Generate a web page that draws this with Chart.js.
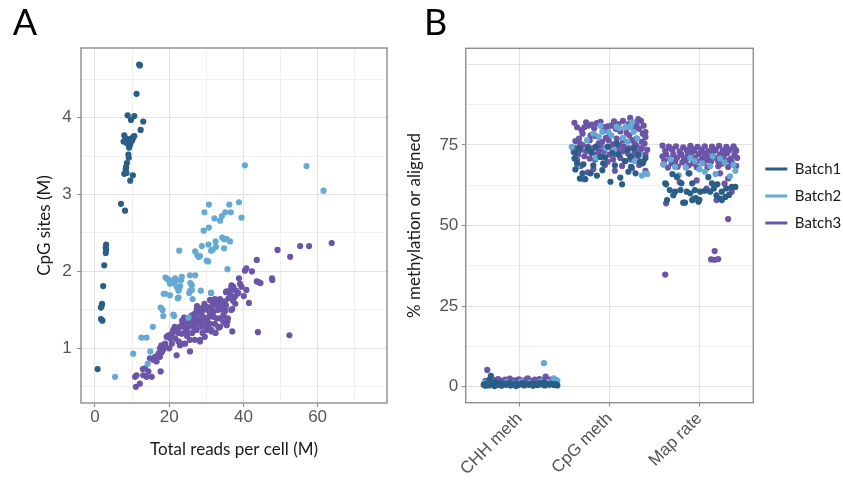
<!DOCTYPE html>
<html>
<head>
<meta charset="utf-8">
<script src="https://cdn.jsdelivr.net/npm/chart.js@4.4.1/dist/chart.umd.min.js"></script>
<style>
  body { margin: 0; background: #fff; }
  #wrapA { position: absolute; left: 0; top: 0; }
  #wrapB { position: absolute; left: 380px; top: 0; }
</style>
</head>
<body>
<div id="wrapA"><canvas id="cpgChart" width="420" height="480"></canvas></div>
<div id="wrapB"><canvas id="methChart" width="463" height="480"></canvas></div>
<script>
// ---- data -----------------------------------------------------------------
var batches = ["Batch1", "Batch2", "Batch3"];
var categories = ["CHH meth", "CpG meth", "Map rate"];

// panel A: [total reads per cell (M), CpG sites (M)]
var cpgBatch1 = [
  [11.9,4.69],[12.1,4.68],[11.2,4.31],[8.8,4.03],[10.6,4.02],[9.7,3.97],[13.0,3.95],[12.3,3.84],
  [7.9,3.77],[10.6,3.76],[8.2,3.73],[10.2,3.73],[7.7,3.69],[8.8,3.68],[9.5,3.65],[9.2,3.61],
  [8.5,3.67],[9.3,3.72],[10.0,3.70],[10.3,3.75],[9.0,3.52],[9.1,3.48],[8.6,3.41],[8.4,3.36],
  [8.3,3.33],[7.9,3.27],[8.5,3.28],[10.2,3.25],[9.5,3.18],[7.0,2.88],[8.1,2.79],[3.0,2.35],
  [2.9,2.31],[3.0,2.28],[2.9,2.24],[2.5,2.08],[2.2,1.81],[1.9,1.58],[1.8,1.55],[1.6,1.53],
  [1.6,1.38],[2.0,1.36],[0.7,0.73]
];
var cpgBatch2 = [
  [40.4,3.38],[57.0,3.37],[61.6,3.05],[30.7,2.87],[36.2,2.87],[38.8,2.90],[29.5,2.77],[35.1,2.77],
  [34.2,2.72],[33.7,2.66],[36.6,2.77],[32.2,2.69],[39.5,2.70],[30.7,2.57],[29.3,2.53],[34.3,2.44],
  [34.8,2.42],[35.5,2.42],[36.4,2.39],[34.8,2.30],[32.5,2.39],[28.8,2.33],[30.6,2.35],[32.6,2.32],
  [31.7,2.28],[31.3,2.27],[22.7,2.27],[27.0,2.26],[27.6,2.21],[27.9,2.19],[28.3,2.20],[30.1,2.14],
  [30.5,2.13],[35.7,2.03],[19.0,1.92],[19.8,1.89],[20.8,1.88],[21.1,1.85],[21.8,1.88],[23.4,1.93],
  [23.2,1.89],[22.0,1.80],[22.9,1.81],[20.2,1.84],[25.6,1.95],[27.0,1.95],[25.7,1.85],[26.1,1.82],
  [22.7,1.78],[22.5,1.75],[28.5,1.75],[18.5,1.71],[20.2,1.69],[25.7,1.75],[25.4,1.72],[31.3,1.72],
  [22.5,1.66],[22.3,1.65],[26.3,1.64],[17.7,1.53],[18.2,1.50],[21.1,1.44],[21.3,1.42],[18.4,1.42],
  [25.2,1.40],[15.6,1.28],[12.5,1.14],[13.9,1.14],[10.3,0.93],[14.9,0.96],[14.2,0.80],[5.4,0.63],
  [19.3,1.91],[21.6,1.91],[18.9,1.71],[26.1,1.76]
];
var cpgBatch3 = [
  [63.8,2.37],[57.7,2.33],[55.3,2.33],[49.2,2.28],[52.6,2.19],[43.6,2.15],[40.8,2.04],[40.4,2.01],
  [42.3,2.00],[38.8,1.91],[47.7,1.91],[47.8,1.89],[43.6,1.87],[44.1,1.86],[44.6,1.85],[36.8,1.82],
  [37.3,1.80],[36.7,1.78],[40.8,1.76],[35.3,1.73],[38.0,1.75],[38.4,1.71],[37.7,1.67],[40.1,1.68],
  [41.5,1.59],[35.0,1.61],[35.3,1.56],[37.2,1.62],[37.0,1.51],[33.7,1.64],[32.3,1.64],[31.7,1.59],
  [31.3,1.72],[29.5,1.58],[35.8,1.39],[35.7,1.35],[35.1,1.33],[34.8,1.48],[36.7,1.50],[43.9,1.21],
  [52.4,1.17],[37.0,1.22],[33.2,1.28],[31.4,1.22],[30.1,1.24],[30.5,1.33],[39.1,1.84],[38.6,1.72],
  [37.5,1.67],[36.4,1.72],[35.5,1.74],[33.4,1.27],
  [31.0,1.63],[31.9,1.58],[32.8,1.56],[31.4,1.54],[30.1,1.54],[30.5,1.50],[29.2,1.50],[28.3,1.52],
  [27.4,1.50],[26.9,1.45],[26.1,1.43],[25.6,1.39],[26.5,1.37],[25.2,1.35],[24.3,1.32],[23.4,1.30],
  [22.9,1.28],[24.3,1.26],[24.7,1.22],[23.4,1.19],[22.0,1.22],[21.1,1.24],[20.7,1.19],[19.8,1.17],
  [19.3,1.15],[20.2,1.13],[21.6,1.13],[22.5,1.09],[23.4,1.06],[24.3,1.06],[25.6,1.11],[26.9,1.11],
  [28.3,1.09],[29.6,1.15],[30.5,1.26],[30.1,1.32],[28.7,1.35],[27.8,1.37],[27.4,1.32],[26.5,1.28],
  [27.4,1.24],[28.7,1.28],[30.1,1.28],[31.4,1.24],[32.3,1.32],[32.8,1.39],[33.7,1.39],[34.6,1.43],
  [35.0,1.48],[35.0,1.52],[34.1,1.54],[33.2,1.50],[34.6,1.35],[35.5,1.30],[33.7,1.28],[31.0,1.32],
  [31.9,1.41],[31.0,1.45],[27.0,1.40],[28.0,1.45],[29.0,1.42],[29.8,1.38],[26.0,1.30],[25.0,1.27],
  [28.5,1.48],[29.5,1.55],[32.0,1.48],[33.0,1.60],[30.5,1.40],[27.5,1.55],[24.0,1.40],[23.5,1.36],
  [22.5,1.20],[21.5,1.28],[24.8,1.16],[26.2,1.20],[29.0,1.20],[32.5,1.20],[34.0,1.60],[36.0,1.65],
  [37.8,1.58],[39.5,1.80],
  [18.9,1.06],[17.9,1.04],[17.5,1.00],[18.4,0.98],[17.1,0.93],[16.2,0.89],[17.5,0.89],[16.6,0.83],
  [15.7,0.85],[14.8,0.87],[13.5,0.74],[14.4,0.70],[13.0,0.65],[11.2,0.65],[10.8,0.63],[12.1,0.54],
  [11.0,0.50],[15.3,0.63],[13.9,0.63],[17.7,0.70],[22.0,0.91],[25.6,0.96],[20.7,1.06],[22.9,1.04],
  [28.3,1.11],[12.9,0.73],[20.0,1.00],[19.0,1.02],[18.0,0.95]
];

// panel B: [category position with jitter, % methylation or aligned]
var methBatch1 = [
  [0.60,0.6],[0.63,1.0],[0.66,0.4],[0.68,3.4],[0.70,0.8],[0.73,1.5],[0.75,0.5],[0.78,1.1],
  [0.80,0.3],[0.83,0.9],[0.85,0.6],[0.88,1.2],[0.90,0.4],[0.93,0.8],[0.95,1.0],[0.98,0.5],
  [1.00,0.7],[1.03,1.1],[1.05,0.4],[1.08,0.9],[1.10,0.6],[1.13,1.0],[1.15,0.3],[1.18,0.8],
  [1.20,0.5],[1.23,1.1],[1.25,0.7],[1.28,0.4],[1.30,0.9],[1.33,0.6],[1.35,1.0],[1.38,0.5],
  [1.40,0.8],[1.42,0.4],[0.62,0.3],[0.72,0.2],[0.96,0.2],[1.16,0.9],[1.27,1.3],[0.67,2.4],
  [1.61,70.8],[1.62,67.4],[1.64,69.3],[1.71,69.0],[1.70,66.2],[1.73,64.4],[1.67,64.6],[1.79,66.2],
  [1.82,68.7],[1.90,71.3],[1.93,69.3],[1.92,67.2],[2.01,63.6],[2.08,75.5],[2.12,64.9],[2.14,62.8],
  [2.23,71.3],[2.24,68.2],[2.34,69.8],[2.37,69.3],[2.29,66.2],[2.21,66.7],[1.62,72.5],[1.80,72.8],
  [1.86,65.5],[1.95,71.2],[2.03,72.5],[2.06,68.7],[2.17,70.0],[2.20,73.5],[2.27,74.0],[2.32,72.0],
  [1.76,74.0],[1.98,74.5],[2.10,72.0],[1.85,74.5],[2.40,71.0],[1.66,74.0],
  [2.62,63.1],[2.75,65.1],[2.80,63.1],[2.92,63.1],[2.67,61.0],[2.73,60.5],[2.79,61.0],[2.86,60.5],
  [2.90,60.0],[2.95,61.0],[3.01,60.5],[2.71,59.4],[2.64,57.9],[2.82,57.1],[2.92,57.9],[2.99,57.4],
  [3.14,63.1],[3.16,61.5],[3.12,60.5],[3.19,59.4],[3.25,60.5],[3.30,61.5],[3.36,62.0],[3.29,58.9],
  [3.23,58.4],[2.63,62.8],[2.84,57.1],[2.93,58.1],[3.00,58.0],[3.25,57.9],[3.40,62.0],[3.06,60.8],
  [2.96,58.5],[3.20,62.8],[2.70,66.0],[3.10,65.0],[3.33,59.5],[2.88,66.2]
];
var methBatch2 = [
  [0.61,1.3],[0.69,1.8],[0.77,1.2],[0.86,1.5],[0.94,1.1],[1.02,1.6],[1.11,1.3],[1.19,1.0],
  [1.27,7.3],[1.32,1.4],[1.38,2.6],[1.42,1.8],[0.82,0.9],[1.06,0.8],[1.24,1.7],
  [1.58,74.4],[1.71,64.4],[1.68,64.6],[1.92,79.1],[1.99,79.1],[2.08,80.6],[2.11,80.2],[2.18,80.6],
  [2.23,80.6],[2.27,79.1],[2.40,66.2],[2.42,66.0],[1.82,78.5],[1.88,77.5],[2.15,77.2],[2.05,73.5],
  [1.96,74.0],[1.85,71.0],[2.33,72.0],[2.28,70.0],[2.36,65.5],[2.02,78.0],[1.75,76.5],[2.20,76.0],
  [1.64,68.5],[2.31,77.0],[1.90,81.0],[2.25,82.0],
  [2.73,68.2],[2.77,65.6],[3.03,69.3],[3.06,66.7],[3.23,70.8],[3.40,67.0],[3.34,65.3],[2.60,69.0],
  [2.85,68.0],[2.95,70.0],[3.12,68.5],[3.18,66.0],[3.28,69.5],[2.68,70.5],[3.00,67.5],[3.38,68.8],
  [2.90,71.0],[3.15,71.5]
];
var methBatch3 = [
  [0.64,5.2],[0.62,1.8],[0.65,1.5],[0.71,2.1],[0.74,1.7],[0.76,2.4],[0.79,1.9],[0.81,1.5],
  [0.84,2.2],[0.87,1.8],[0.89,2.5],[0.92,1.6],[0.94,2.0],[0.97,1.7],[0.99,2.3],[1.02,1.9],
  [1.04,1.5],[1.07,2.1],[1.09,2.6],[1.12,1.8],[1.14,1.6],[1.17,2.2],[1.19,1.9],[1.22,2.4],
  [1.24,1.6],[1.26,2.0],[1.29,3.1],[1.31,1.7],[1.34,2.2],[1.37,1.8],[1.39,1.5],[1.41,2.0],
  [1.61,81.9],[1.72,80.5],[1.76,81.0],[1.80,81.3],[1.86,81.8],[1.90,82.2],[1.95,79.5],[2.02,81.0],
  [2.05,82.3],[2.10,81.5],[2.18,80.5],[2.23,83.4],[2.26,82.0],[2.30,81.2],[2.35,82.5],[2.38,81.0],
  [2.40,79.0],[2.27,79.8],[2.12,79.2],[1.98,80.8],[1.69,79.6],[2.33,80.0],
  [1.64,80.5],[1.74,82.0],[1.83,80.2],[1.93,80.6],[2.07,80.0],[2.15,82.5],[2.21,81.5],[2.32,83.0],
  [2.37,78.5],[1.79,78.0],[1.99,76.5],[2.19,78.8],[2.39,75.5],[1.67,75.5],[2.25,76.5],
  [1.66,77.0],[1.70,78.5],[1.78,76.5],[1.84,77.8],[1.92,76.0],[2.00,78.0],[2.08,77.0],[2.15,76.5],
  [2.22,78.0],[2.30,77.0],[2.36,76.0],[2.40,77.5],[1.88,75.5],[2.04,75.2],[2.28,75.2],[1.62,76.2],
  [2.12,74.8],[1.96,77.2],
  [1.62,74.0],[1.65,72.0],[1.68,73.5],[1.72,71.5],[1.76,74.5],[1.80,72.5],[1.84,70.5],[1.88,73.0],
  [1.92,71.5],[1.96,74.0],[2.00,72.0],[2.04,70.5],[2.08,73.5],[2.12,71.0],[2.16,74.5],[2.20,72.5],
  [2.24,70.5],[2.28,73.0],[2.32,71.5],[2.36,74.0],[2.40,72.0],[1.70,75.0],[1.90,74.8],[2.10,75.0],
  [2.30,74.8],[1.64,70.2],[2.38,70.0],[1.78,70.8],[1.98,69.8],[2.18,70.0],[1.74,73.0],[1.86,72.0],
  [1.94,73.2],[2.02,74.2],[2.06,72.2],[2.14,73.0],[2.22,74.0],[2.26,71.8],[2.34,73.2],[1.82,74.0],
  [1.60,72.8],[2.42,73.5],
  [1.68,68.5],[1.82,67.5],[1.95,68.8],[2.06,67.0],[2.14,68.5],[2.25,67.8],[2.33,68.8],[1.76,66.5],
  [2.40,67.0],
  [2.59,74.8],[2.62,73.2],[2.66,74.5],[2.70,73.5],[2.74,74.6],[2.78,73.0],[2.82,74.3],[2.86,73.4],
  [2.90,74.7],[2.94,73.2],[2.98,74.4],[3.02,73.6],[3.06,74.6],[3.10,73.1],[3.14,74.5],[3.18,73.4],
  [3.22,74.7],[3.26,73.3],[3.30,74.4],[3.34,73.5],[3.38,74.6],[3.41,73.2],
  [2.68,73.9],[2.80,72.0],[2.92,73.8],[3.04,72.6],[3.16,73.7],[3.28,72.8],[3.40,73.6],
  [2.59,71.5],[2.63,72.2],[2.67,70.8],[2.71,72.0],[2.75,71.0],[2.79,72.4],[2.83,70.7],[2.87,71.8],
  [2.91,72.5],[2.95,71.0],[2.99,72.2],[3.03,70.8],[3.07,72.0],[3.11,71.2],[3.15,72.6],[3.19,70.9],
  [3.23,72.1],[3.27,71.3],[3.31,72.5],[3.35,70.8],[3.39,72.0],[3.42,71.0],
  [2.61,70.2],[2.73,69.8],[2.85,70.2],[2.97,70.0],[3.09,70.4],[3.21,69.9],[3.33,70.3],
  [2.60,69.0],[2.65,68.0],[2.69,69.4],[2.76,68.3],[2.81,69.6],[2.88,68.6],[2.93,69.3],[2.97,68.1],
  [3.05,69.5],[3.09,68.0],[3.13,69.8],[3.21,68.4],[3.25,69.2],[3.32,68.2],[3.36,69.6],[3.41,68.5],
  [2.89,66.2],[3.23,66.2],[3.32,64.6],[2.63,56.9],[3.19,57.9],[2.62,34.8],[3.17,42.1],[3.13,39.5],
  [3.17,39.4],[3.21,39.6],[3.32,52.0],[2.78,63.5],[2.97,64.0],[3.08,61.5],[3.36,60.5],[3.28,63.0]
];

// axis ticks (grid lines), labels shown only on the major ones
var xTicksA = [0, 10, 20, 30, 40, 50, 60, 70];
var yTicksA = [0.5, 1, 1.5, 2, 2.5, 3, 3.5, 4, 4.5];
var xTicksB = [1, 2, 3];
var yTicksB = [0, 12.5, 25, 37.5, 50, 62.5, 75, 87.5, 100];

// ---- styling --------------------------------------------------------------
var colors = ["#295e86", "#64aad5", "#6a55a8"];
var tickFont = { family: "'Liberation Sans', Arial, sans-serif", size: 17 };
var titleFont = { family: "Lato, 'Open Sans', sans-serif", size: 17 };
var tickColor = "#555555";

Chart.defaults.font.family = "Lato, sans-serif";

function toPoints(rows) {
  return rows.map(function (r) { return { x: r[0], y: r[1] }; });
}

function makeDatasets(lists) {
  return lists.map(function (rows, i) {
    return {
      label: batches[i],
      data: toPoints(rows),
      backgroundColor: colors[i],
      borderColor: colors[i],
      pointRadius: 3.1,
      pointHoverRadius: 3.1,
      pointBorderWidth: 0
    };
  });
}

function fixedTicks(values) {
  return function (axis) {
    axis.ticks = values.map(function (v) { return { value: v }; });
  };
}

function gridStyle(isMajor, hasTick) {
  return {
    color: function (c) { return c.tick && isMajor(c.tick.value) ? "#e2e2e2" : "#eeeeee"; },
    lineWidth: function (c) { return c.tick && isMajor(c.tick.value) ? 1.1 : 0.9; },
    tickColor: function (c) { return c.tick && hasTick(c.tick.value) ? "#8a8a8a" : "rgba(0,0,0,0)"; },
    tickLength: 4,
    tickWidth: 1
  };
}

// grey frame round the panel
var frame = {
  id: "frame",
  afterDraw: function (chart) {
    var a = chart.chartArea;
    var ctx = chart.ctx;
    ctx.save();
    ctx.strokeStyle = "#8e8e8e";
    ctx.lineWidth = 1.4;
    ctx.strokeRect(a.left, a.top, a.right - a.left, a.bottom - a.top);
    ctx.restore();
  }
};

// ---- panel A --------------------------------------------------------------
var majorXA = function (v) { return v % 20 === 0; };
var majorYA = function (v) { return Number.isInteger(v); };

new Chart(document.getElementById("cpgChart"), {
  type: "scatter",
  data: { datasets: makeDatasets([cpgBatch1, cpgBatch2, cpgBatch3]) },
  options: {
    responsive: false,
    animation: false,
    events: [],
    layout: { padding: { left: 12.7, right: 33, top: 0, bottom: 0 } },
    plugins: {
      legend: { display: false },
      tooltip: { enabled: false },
      title: {
        display: true, text: "A", align: "start", color: "#000",
        font: { family: "Lato, sans-serif", size: 36, weight: "normal" },
        padding: { top: 1.4, bottom: 3.4 }
      }
    },
    scales: {
      x: {
        type: "linear", min: -3.77, max: 78.7,
        afterBuildTicks: fixedTicks(xTicksA),
        afterFit: function (s) { s.height = 77; },
        grid: gridStyle(majorXA, majorXA),
        border: { display: false },
        ticks: {
          autoSkip: false, maxRotation: 0, padding: 0.5, color: tickColor, font: tickFont,
          callback: function (v) { return majorXA(v) ? String(v) : ""; }
        },
        title: {
          display: true, text: "Total reads per cell (M)", color: "#1a1a1a",
          font: titleFont, padding: { top: 0, bottom: 19.8 }
        }
      },
      y: {
        type: "linear", min: 0.289, max: 4.906,
        afterBuildTicks: fixedTicks(yTicksA),
        afterFit: function (s) { s.width = 68.3; },
        grid: gridStyle(majorYA, majorYA),
        border: { display: false },
        ticks: {
          autoSkip: false, padding: 5.3, color: tickColor, font: tickFont,
          callback: function (v) { return majorYA(v) ? String(v) : ""; }
        },
        title: {
          display: true, text: "CpG sites (M)", color: "#1a1a1a",
          font: titleFont, padding: { top: 21.8, bottom: 0 }
        }
      }
    }
  },
  plugins: [frame]
});

// ---- panel B --------------------------------------------------------------
var majorXB = function () { return true; };
var majorYB = function (v) { return v % 25 === 0; };
var labelYB = function (v) { return v % 25 === 0 && v <= 75; };

new Chart(document.getElementById("methChart"), {
  type: "scatter",
  data: { datasets: makeDatasets([methBatch1, methBatch2, methBatch3]) },
  options: {
    responsive: false,
    animation: false,
    events: [],
    layout: { padding: { left: 44, right: 0, top: 0, bottom: 0 } },
    plugins: {
      tooltip: { enabled: false },
      title: {
        display: true, text: "B", align: "start", color: "#000",
        font: { family: "Lato, sans-serif", size: 36, weight: "normal" },
        padding: { top: 1.4, bottom: 3.7 }
      },
      legend: {
        position: "right",
        align: "start",
        maxWidth: 89.7,
        title: { display: true, text: "", font: { size: 10 }, padding: { top: 137.5, bottom: 0 } },
        labels: {
          usePointStyle: true,
          pointStyleWidth: 22,
          padding: 12,
          color: "#1a1a1a",
          font: { family: "Lato, sans-serif", size: 15 },
          generateLabels: function (chart) {
            return chart.data.datasets.map(function (ds, i) {
              return {
                text: ds.label, fillStyle: ds.backgroundColor, strokeStyle: ds.backgroundColor,
                lineWidth: 3, pointStyle: "line", hidden: false, datasetIndex: i, fontColor: "#1a1a1a"
              };
            });
          }
        }
      }
    },
    scales: {
      x: {
        type: "linear", min: 0.4, max: 3.6,
        afterBuildTicks: fixedTicks(xTicksB),
        afterFit: function (s) { s.height = 77.3; },
        grid: gridStyle(majorXB, majorXB),
        border: { display: false },
        ticks: {
          autoSkip: false, minRotation: 45, maxRotation: 45, padding: 2,
          color: tickColor, font: tickFont,
          callback: function (v) { return categories[Math.round(v) - 1]; }
        }
      },
      y: {
        type: "linear", min: -4.96, max: 105,
        afterBuildTicks: fixedTicks(yTicksB),
        afterFit: function (s) { s.width = 41.7; },
        grid: gridStyle(majorYB, labelYB),
        border: { display: false },
        ticks: {
          autoSkip: false, padding: 3.4, color: tickColor, font: tickFont,
          callback: function (v) { return labelYB(v) ? String(v) : ""; }
        },
        title: {
          display: true, text: "% methylation or aligned", color: "#1a1a1a",
          font: titleFont, padding: { top: -19.2, bottom: 0 }
        }
      }
    }
  },
  plugins: [frame]
});
</script>
</body>
</html>
